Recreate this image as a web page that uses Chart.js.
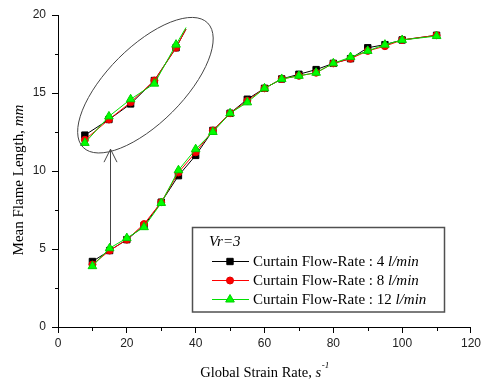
<!DOCTYPE html>
<html>
<head>
<meta charset="utf-8">
<title>Mean Flame Length vs Global Strain Rate</title>
<script src="https://cdn.jsdelivr.net/npm/chart.js@4.4.0/dist/chart.umd.min.js"></script>
<style>
    html, body { margin: 0; padding: 0; background: #fff; }
    #wrap { width: 484px; height: 383px; }
</style>
</head>
<body>
<div id="wrap"><canvas id="flame-chart" width="484" height="383"></canvas></div>
<script>
// measured strain rates (1/s) and mean flame lengths (mm)
const strainRate = [10, 15, 20, 25, 30, 35, 40, 45, 50, 55, 60, 65, 70, 75, 80, 85, 90, 95, 100, 110];
const flame4  = [4.2, 4.9, 5.6, 6.5, 8.0, 9.7, 11.0, 12.6, 13.7, 14.6, 15.3, 15.9, 16.2, 16.5, 16.9, 17.2, 17.9, 18.1, 18.4, 18.7];
const flame8  = [4.0, 4.9, 5.6, 6.6, 8.0, 9.9, 11.2, 12.6, 13.7, 14.5, 15.3, 15.9, 16.1, 16.3, 16.9, 17.2, 17.7, 18.0, 18.4, 18.7];
const flame12 = [3.9, 5.05, 5.7, 6.4, 7.95, 10.05, 11.4, 12.5, 13.7, 14.4, 15.3, 15.9, 16.1, 16.3, 16.9, 17.3, 17.7, 18.1, 18.4, 18.65];

// enlarged view of the low strain-rate points (drawn inside the ellipse)
const zoomRate = [7.8, 14.8, 21.1, 28.0, 34.3, 37.2];
const zoom4  = [12.3, 13.3, 14.3, 15.8, 17.9, 19.1];
const zoom8  = [12.0, 13.3, 14.4, 15.8, 17.9, 19.1];
const zoom12 = [11.8, 13.5, 14.6, 15.6, 18.1, 19.2];

const xMajor = [0, 20, 40, 60, 80, 100, 120];
const xMinor = [10, 30, 50, 70, 90, 110];
const yMajor = [0, 5, 10, 15, 20];
const yMinor = [2.5, 7.5, 12.5, 17.5];

const flowRates = ['4', '8', '12'];

const SERIF = "'Liberation Serif', 'Times New Roman', serif";
const SANS = "'Liberation Sans', Arial, sans-serif";

const styles = [
    { line: '#000000', fill: '#000000', border: '#000000', shape: 'rect', radius: 4.5, order: 2 },
    { line: '#ff0000', fill: '#ff0000', border: '#e00000', shape: 'circle', radius: 3.5, order: 1 },
    { line: '#00e000', fill: '#00ff00', border: '#00d000', shape: 'triangle', radius: 5, order: 0 },
];

function toPoints(xs, ys) {
    return xs.map((x, i) => ({ x: x, y: ys[i] }));
}

const mainSeries = [flame4, flame8, flame12];
const zoomSeries = [zoom4, zoom8, zoom12];

const datasets = [];
mainSeries.forEach((ys, i) => {
    const s = styles[i];
    datasets.push({
        label: 'Curtain Flow-Rate : ' + flowRates[i] + ' l/min',
        data: toPoints(strainRate, ys),
        borderColor: s.line,
        borderWidth: 1,
        backgroundColor: s.fill,
        pointBackgroundColor: s.fill,
        pointBorderColor: s.border,
        pointBorderWidth: 1,
        pointStyle: s.shape,
        pointRadius: s.radius,
        tension: 0,
        order: s.order,
    });
});
zoomSeries.forEach((ys, i) => {
    const s = styles[i];
    datasets.push({
        label: 'zoom ' + flowRates[i],
        data: toPoints(zoomRate, ys),
        borderColor: s.line,
        borderWidth: 1,
        backgroundColor: s.fill,
        pointBackgroundColor: s.fill,
        pointBorderColor: s.border,
        pointBorderWidth: 1,
        pointStyle: s.shape,
        // the line runs past the last marker to the ellipse edge
        pointRadius: ys.map((v, k) => (k === ys.length - 1 ? 0 : s.radius)),
        tension: 0,
        order: s.order,
    });
});

// ellipse + arrow marking the enlarged region
const callout = {
    center: { x: 25.4, y: 15.5 },
    rx: 88, ry: 38, angle: -Math.PI / 4,
    arrowX: 15, arrowFrom: 5.25, arrowTo: 11.4,
};

function drawMarker(ctx, s, x, y) {
    ctx.save();
    ctx.fillStyle = s.fill;
    ctx.strokeStyle = s.border;
    ctx.lineWidth = 1;
    ctx.beginPath();
    if (s.shape === 'rect') {
        const h = s.radius * Math.SQRT1_2;
        ctx.rect(x - h, y - h, 2 * h, 2 * h);
    } else if (s.shape === 'circle') {
        ctx.arc(x, y, s.radius, 0, Math.PI * 2);
    } else {
        const r = s.radius;
        ctx.moveTo(x, y - r);
        ctx.lineTo(x + r * Math.sin(Math.PI / 3), y + r * 0.5);
        ctx.lineTo(x - r * Math.sin(Math.PI / 3), y + r * 0.5);
        ctx.closePath();
    }
    ctx.fill();
    ctx.stroke();
    ctx.restore();
}

// draws a run of [text, italic] pieces starting at x
function drawRich(ctx, parts, x, y, size) {
    let cx = x;
    parts.forEach(p => {
        ctx.font = (p[1] ? 'italic ' : '') + size + 'px ' + SERIF;
        ctx.fillText(p[0], cx, y);
        cx += ctx.measureText(p[0]).width;
    });
    return cx;
}

function richWidth(ctx, parts, size) {
    let w = 0;
    parts.forEach(p => {
        ctx.font = (p[1] ? 'italic ' : '') + size + 'px ' + SERIF;
        w += ctx.measureText(p[0]).width;
    });
    return w;
}

const decorations = {
    id: 'decorations',
    afterDraw(chart) {
        const ctx = chart.ctx;
        const xs = chart.scales.x;
        const ys = chart.scales.y;
        const area = chart.chartArea;

        ctx.save();
        ctx.strokeStyle = '#000';
        ctx.lineWidth = 1;

        // minor ticks
        ctx.beginPath();
        xMinor.forEach(v => {
            const px = Math.round(xs.getPixelForValue(v)) + 0.5;
            ctx.moveTo(px, area.bottom);
            ctx.lineTo(px, area.bottom + 4);
        });
        yMinor.forEach(v => {
            const py = Math.round(ys.getPixelForValue(v)) + 0.5;
            ctx.moveTo(area.left, py);
            ctx.lineTo(area.left - 3, py);
        });
        ctx.stroke();

        // ellipse around the enlarged points
        ctx.strokeStyle = '#454545';
        ctx.beginPath();
        ctx.ellipse(xs.getPixelForValue(callout.center.x), ys.getPixelForValue(callout.center.y),
            callout.rx, callout.ry, callout.angle, 0, Math.PI * 2);
        ctx.stroke();

        // arrow pointing up to the ellipse
        const ax = Math.round(xs.getPixelForValue(callout.arrowX)) + 0.5;
        const ay0 = ys.getPixelForValue(callout.arrowFrom);
        const ay1 = ys.getPixelForValue(callout.arrowTo);
        ctx.beginPath();
        ctx.moveTo(ax, ay0);
        ctx.lineTo(ax, ay1);
        ctx.moveTo(ax - 6.5, ay1 + 13);
        ctx.lineTo(ax, ay1);
        ctx.lineTo(ax + 6.5, ay1 + 13);
        ctx.stroke();

        // legend box
        ctx.fillStyle = '#fff';
        ctx.fillRect(192.5, 227.5, 252, 84.5);
        ctx.strokeStyle = '#505050';
        ctx.lineWidth = 1.5;
        ctx.strokeRect(192.5, 227.5, 252, 84.5);

        ctx.fillStyle = '#000';
        ctx.textBaseline = 'middle';
        ctx.textAlign = 'left';
        drawRich(ctx, [['Vr=3', true]], 209, 242, 15);

        const rowY = [261, 280, 299];
        styles.forEach((s, i) => {
            ctx.strokeStyle = s.line;
            ctx.lineWidth = 1;
            ctx.beginPath();
            ctx.moveTo(212, rowY[i] + 0.5);
            ctx.lineTo(249, rowY[i] + 0.5);
            ctx.stroke();
            drawMarker(ctx, s, 230, rowY[i] + 0.5);
            ctx.fillStyle = '#000';
            drawRich(ctx, [['Curtain Flow-Rate : ' + flowRates[i] + ' ', false], ['l/min', true]], 253, rowY[i] + 1, 15);
        });

        // x axis title with superscript
        const xParts = [['Global Strain Rate, ', false], ['s', true]];
        ctx.font = 'italic 9px ' + SERIF;
        const supW = ctx.measureText('-1').width;
        const xw = richWidth(ctx, xParts, 14.5) + supW;
        const xcx = (area.left + area.right) / 2;
        const endX = drawRich(ctx, xParts, xcx - xw / 2, 373, 14.5);
        ctx.font = 'italic 9px ' + SERIF;
        ctx.fillText('-1', endX + 0.5, 366);

        // y axis title, rotated
        const yParts = [['Mean Flame Length, ', false], ['mm', true]];
        const yw = richWidth(ctx, yParts, 15);
        ctx.translate(19, 180);
        ctx.rotate(-Math.PI / 2);
        drawRich(ctx, yParts, -yw / 2, 0, 15);
        ctx.restore();
    },
};

new Chart(document.getElementById('flame-chart'), {
    type: 'line',
    data: { datasets: datasets },
    options: {
        responsive: false,
        animation: false,
        events: [],
        layout: { padding: { top: 15, right: 11, left: 0, bottom: 0 } },
        plugins: {
            legend: { display: false },
            tooltip: { enabled: false },
            title: { display: false },
        },
        scales: {
            x: {
                type: 'linear',
                min: 0,
                max: 120,
                afterBuildTicks: scale => { scale.ticks = xMajor.map(v => ({ value: v })); },
                afterFit: scale => { scale.height = 56; },
                ticks: { color: '#222', font: { family: SANS, size: 12 }, padding: 3, maxRotation: 0 },
                grid: { drawOnChartArea: false, drawTicks: true, tickLength: 6, color: '#000' },
                border: { display: true, color: '#000', width: 1 },
            },
            y: {
                type: 'linear',
                min: 0,
                max: 20,
                afterBuildTicks: scale => { scale.ticks = yMajor.map(v => ({ value: v })); },
                afterFit: scale => { scale.width = 58; },
                ticks: { color: '#222', font: { family: SANS, size: 12 }, padding: 6 },
                grid: { drawOnChartArea: false, drawTicks: true, tickLength: 6, color: '#000' },
                border: { display: true, color: '#000', width: 1 },
            },
        },
    },
    plugins: [decorations],
});
</script>
</body>
</html>
